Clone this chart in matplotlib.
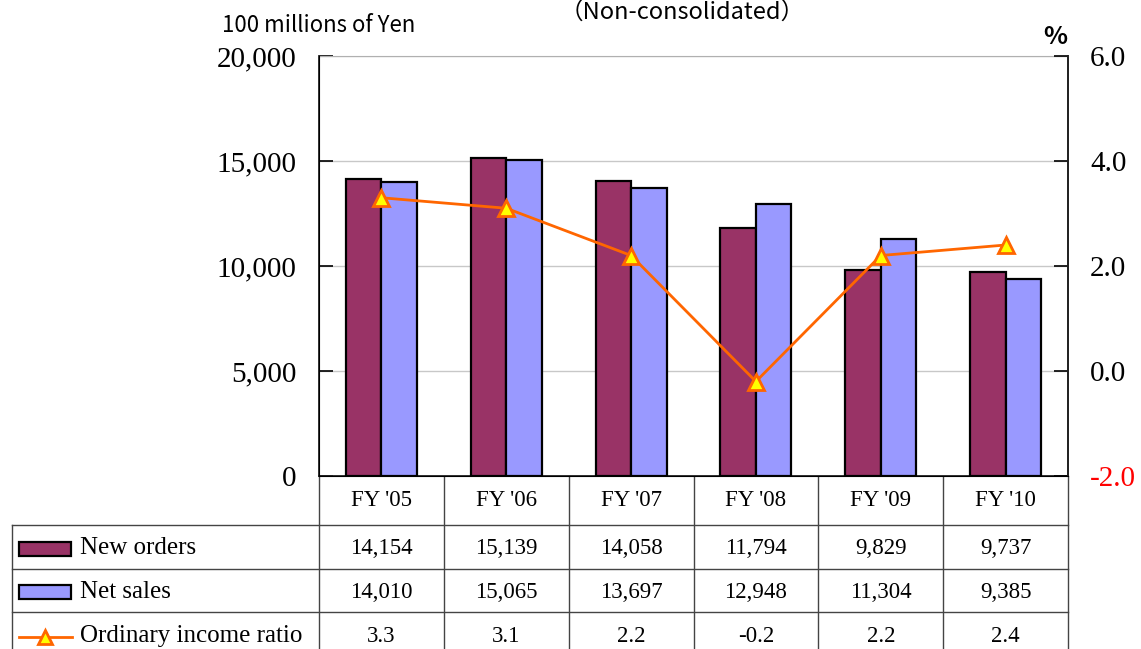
import numpy as np
import matplotlib.pyplot as plt
from matplotlib.patches import Rectangle
from matplotlib.transforms import blended_transform_factory

# data
years = ["FY '05", "FY '06", "FY '07", "FY '08", "FY '09", "FY '10"]
new_orders = [14154, 15139, 14058, 11794, 9829, 9737]
net_sales = [14010, 15065, 13697, 12948, 11304, 9385]
income_ratio = [3.3, 3.1, 2.2, -0.2, 2.2, 2.4]

series_labels = ['New orders', 'Net sales', 'Ordinary income ratio']

C_ORDERS = '#993366'
C_SALES = '#9999FF'
C_LINE = '#FF6600'
SERIF = 'Liberation Serif'
SANS = ['Noto Sans CJK JP', 'DejaVu Sans']

W, H = 1141, 649
fig = plt.figure(figsize=(W / 100, H / 100), dpi=100)

# plot area in pixels: x 319..1068, y 56..476
ax = fig.add_axes([319 / W, (H - 476) / H, 749 / W, 420 / H])
x = np.arange(len(years))
bw = 0.285
ax.bar(x - bw / 2, new_orders, bw, color=C_ORDERS, edgecolor='black', linewidth=1.6, zorder=3)
ax.bar(x + bw / 2, net_sales, bw, color=C_SALES, edgecolor='black', linewidth=1.6, zorder=3)
ax.set_xlim(-0.5, len(years) - 0.5)
ax.set_ylim(0, 20000)
ax.set_yticks(np.arange(0, 20001, 5000))
ax.set_yticklabels([f'{v:,}' for v in range(0, 20001, 5000)], fontfamily=SERIF, fontsize=21)
ax.set_xticks([])
ax.yaxis.grid(True, color='#C8C8C8', linewidth=1)
ax.set_axisbelow(True)
ax.tick_params(axis='y', direction='in', length=10, width=1.2, pad=16)
for s in ['left', 'right', 'bottom']:
    ax.spines[s].set_linewidth(1.3)
    ax.spines[s].set_color('#222222')
ax.spines['top'].set_color('#B0B0B0')

ax2 = ax.twinx()
ax2.plot(x, income_ratio, color=C_LINE, linewidth=2, marker='^', markersize=12,
         markerfacecolor='#FFFF00', markeredgecolor=C_LINE, markeredgewidth=2, zorder=5)
ax2.set_ylim(-2, 6)
ax2.set_yticks([-2, 0, 2, 4, 6])
ax2.set_yticklabels([f'{v:.1f}' for v in [-2, 0, 2, 4, 6]], fontfamily=SERIF, fontsize=21)
ax2.get_yticklabels()[0].set_color('red')
ax2.tick_params(axis='y', direction='in', length=10, width=1.2, pad=16)
ax2.spines['right'].set_linewidth(1.3)
ax2.spines['right'].set_color('#222222')
ax2.spines['top'].set_visible(False)

# overlay in pixel coordinates for the data table
tab = fig.add_axes([0, 0, 1, 1], zorder=-1)
tab.set_xlim(0, W)
tab.set_ylim(H, 0)
tab.axis('off')
bt = blended_transform_factory(ax.transData, tab.transData)

line_kw = dict(color='#444444', linewidth=1, clip_on=False)
row_edges = [525, 569, 612, 655]
for yy in row_edges:
    tab.plot([12, 1068], [yy, yy], **line_kw)
tab.plot([12, 12], [525, 660], **line_kw)
for e in np.arange(-0.5, len(years), 1.0):
    tab.plot([e, e], [476, 660], transform=bt, **line_kw)

row_mid = [501, 548, 592, 636]
num_kw = dict(transform=bt, ha='center', va='center', fontfamily=SERIF, fontsize=16.5)
for i, yr in enumerate(years):
    tab.text(i, row_mid[0], yr, **num_kw)
    tab.text(i, row_mid[1], f'{new_orders[i]:,}', **num_kw)
    tab.text(i, row_mid[2], f'{net_sales[i]:,}', **num_kw)
    tab.text(i, row_mid[3], f'{income_ratio[i]:.1f}', **num_kw)

# legend keys inside the table
tab.add_patch(Rectangle((19, 542), 52, 14, facecolor=C_ORDERS, edgecolor='black', linewidth=1.6))
tab.add_patch(Rectangle((19, 585), 52, 14, facecolor=C_SALES, edgecolor='black', linewidth=1.6))
tab.plot([19, 72], [637, 637], color=C_LINE, linewidth=2)
tab.plot([45], [637], marker='^', markersize=10, markerfacecolor='#FFFF00',
         markeredgecolor=C_LINE, markeredgewidth=2)
for lab, yy in zip(series_labels, row_mid[1:]):
    tab.text(80, yy, lab, ha='left', va='center', fontfamily=SERIF, fontsize=18)

# header texts
fig.text(682 / W, 1 - 19 / H, '（Non-consolidated）', ha='center', va='baseline', family=SANS, fontsize=17)
fig.text(222 / W, 1 - 25 / H, '100 millions of Yen', ha='left', va='center', family=SANS, fontsize=16)
fig.text(1055 / W, 1 - 37 / H, '%', ha='center', va='center', family=SANS, fontsize=18, fontweight='bold')

fig.savefig('out.png', dpi=100)
